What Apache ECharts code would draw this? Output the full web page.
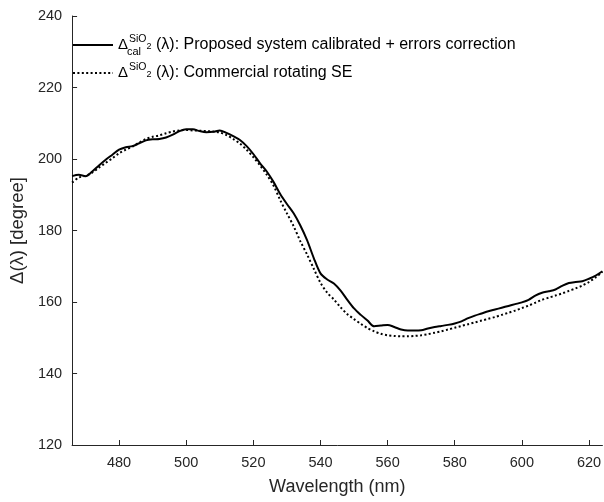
<!DOCTYPE html>
<html>
<head>
<meta charset="utf-8">
<script src="https://cdn.jsdelivr.net/npm/echarts@6/dist/echarts.min.js"></script>
<style>html,body{margin:0;padding:0;background:#fff}#c{width:604px;height:502px}</style>
</head>
<body>
<div id="c"></div>
<script>
var wavelengths = [466,468,470,472,474,476,478,480,482,484,486,488,490,492,494,496,498,500,502,504,506,508,510,512,514,516,518,520,522,524,526,528,530,532,534,536,538,540,542,544,546,548,550,552,554,556,558,560,562,564,566,568,570,572,574,576,578,580,582,584,586,588,590,592,594,596,598,600,602,604,606,608,610,612,614,616,618,620,622,624];
var deltaCal = [195.2,195.6,195.2,196.5,198.2,199.8,201.2,202.6,203.3,203.6,204.4,205.2,205.5,205.6,206.0,206.8,207.8,208.3,208.3,207.8,207.5,207.6,208.0,207.3,206.4,205.3,203.6,201.4,198.8,196.5,193.6,190.2,187.4,184.8,181.4,177.3,172.3,168.0,166.3,165.2,163.2,160.6,158.2,156.4,154.8,153.2,153.4,153.6,153.0,152.3,152.0,152.0,152.1,152.6,153.0,153.3,153.6,154.0,154.6,155.5,156.2,156.8,157.4,157.9,158.4,158.9,159.4,159.9,160.6,161.8,162.6,163.0,163.5,164.5,165.3,165.6,165.8,166.5,167.4,168.6];
var deltaCom = [193.4,194.8,195.3,196.2,197.6,198.9,200.2,201.6,202.6,203.5,204.6,205.6,206.2,206.6,207.2,207.7,208.0,208.1,208.0,207.9,207.8,207.7,207.4,206.7,205.6,204.3,202.6,200.5,198.2,195.6,192.6,188.5,184.8,181.2,177.0,173.3,169.3,165.4,162.6,160.7,158.5,156.6,155.2,153.9,152.7,151.8,151.1,150.7,150.5,150.4,150.4,150.5,150.7,151.0,151.4,151.8,152.3,152.8,153.3,153.8,154.3,154.8,155.3,155.8,156.4,157.0,157.6,158.3,159.0,159.8,160.6,161.2,161.8,162.4,163.1,163.8,164.6,165.6,166.9,168.4];
var xTicks = [480,500,520,540,560,580,600,620];
var yTicks = [120,140,160,180,200,220,240];
var seriesNames = ['cal', 'com'];
var legendTexts = [' (λ): Proposed system calibrated + errors correction', ' (λ): Commercial rotating SE'];

var FONT = 'Liberation Sans, Arial, sans-serif';
var AX = '#262626';
function zip(xs, ys){ return xs.map(function(x,i){ return [x, ys[i]]; }); }

var chart = echarts.init(document.getElementById('c'), null, {renderer:'canvas'});
var option = {
  animation: false,
  backgroundColor: '#fff',
  grid: {left: 68, right: 0, top: 16, bottom: 57, containLabel: false},
  xAxis: {
    type: 'value', min: 466, max: 624, interval: 20,
    name: 'Wavelength (nm)', nameLocation: 'middle', nameGap: 33,
    nameTextStyle: {fontFamily: FONT, fontSize: 18, color: AX},
    axisLine: {show: true, onZero: false, lineStyle: {color: AX, width: 1}},
    axisTick: {show: true, inside: true, length: 5, lineStyle: {color: AX}, customValues: xTicks},
    axisLabel: {fontFamily: FONT, fontSize: 14.5, color: AX, margin: 10, customValues: xTicks},
    splitLine: {show: false}
  },
  yAxis: {
    type: 'value', min: 120, max: 240, interval: 20,
    name: 'Δ(λ) [degree]', nameLocation: 'middle', nameGap: 42, nameRotate: 90,
    nameTextStyle: {fontFamily: FONT, fontSize: 18.5, color: AX},
    axisLine: {show: true, onZero: false, lineStyle: {color: AX, width: 1}},
    axisTick: {show: true, inside: true, length: 5, lineStyle: {color: AX}, customValues: yTicks},
    axisLabel: {fontFamily: FONT, fontSize: 14.5, color: AX, margin: 10, customValues: yTicks},
    splitLine: {show: false}
  },
  legend: {
    orient: 'vertical', left: 67, top: 29, itemGap: 9,
    itemWidth: 40, itemHeight: 14,
    data: seriesNames,
    itemStyle: {color: 'rgba(0,0,0,0)', borderWidth: 0, opacity: 0},
    formatter: function(n){
      var t = legendTexts[seriesNames.indexOf(n)];
      return '{d|Δ}{sup|SiO}{sub|2}{t|' + t + '}';
    },
    textStyle: {
      fontFamily: FONT, fontSize: 15, color: '#000',
      rich: {
        d: {fontFamily: FONT, fontSize: 15, color: '#000', lineHeight: 22, verticalAlign: 'middle'},
        sup: {fontFamily: FONT, fontSize: 10.5, color: '#000', lineHeight: 22, verticalAlign: 'top', padding: [0,0,0,1]},
        sub: {fontFamily: FONT, fontSize: 9, color: '#000', lineHeight: 22, verticalAlign: 'middle', padding: [3,0,0,0]},
        t: {fontFamily: FONT, fontSize: 16, color: '#000', lineHeight: 22, verticalAlign: 'middle'}
      }
    }
  },
  graphic: [{
    type: 'text', left: 127, top: 46, silent: true,
    style: {text: 'cal', font: '11px ' + FONT, fill: '#000'}
  }],
  series: [
    {name: 'cal', type: 'line', data: zip(wavelengths, deltaCal), showSymbol: false, symbol: 'none', smooth: 0.3,
     lineStyle: {color: '#000', width: 2, type: 'solid'}, itemStyle: {color: '#000'}},
    {name: 'com', type: 'line', data: zip(wavelengths, deltaCom), showSymbol: false, symbol: 'none', smooth: 0.3,
     lineStyle: {color: '#000', width: 2, type: [2, 2.4]}, itemStyle: {color: '#000'}}
  ]
};
chart.setOption(option);
</script>
</body>
</html>
